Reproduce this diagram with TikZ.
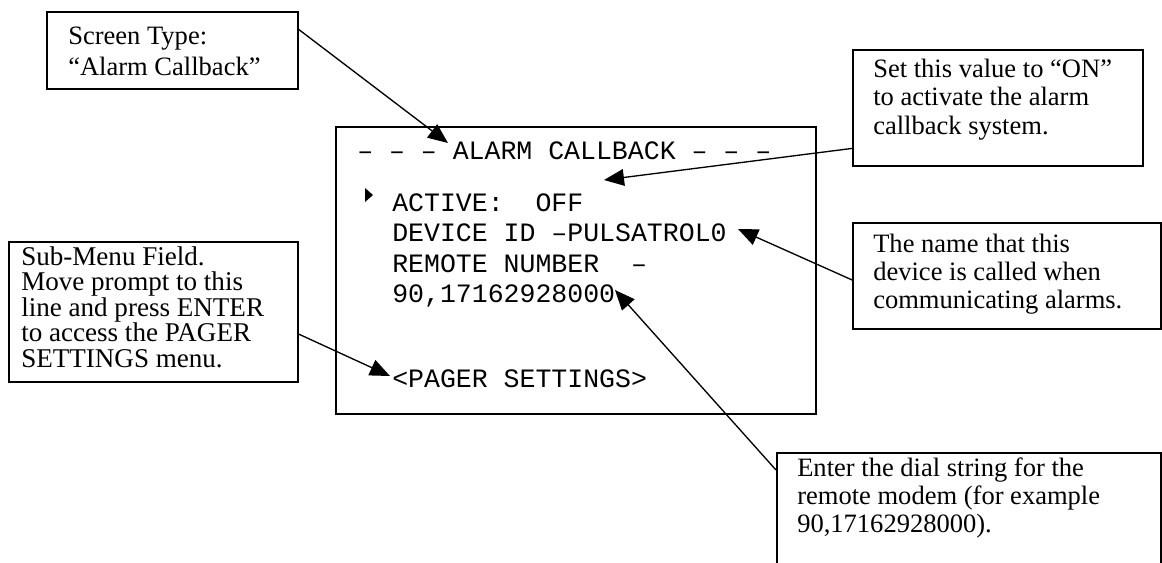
\documentclass[tikz,border=0pt]{standalone}
\usepackage{fontspec}
\setmainfont{Liberation Serif}
\newfontfamily\lcdfont{Liberation Mono}
\usetikzlibrary{arrows.meta,calc}
\begin{document}
\begin{tikzpicture}[x=0.75pt,y=-0.75pt,
  callout/.style={draw,line width=1.25pt,inner sep=0pt,anchor=north west},
  note/.style={anchor=base west,align=left,inner sep=0pt},
  screentext/.style={anchor=base west,inner sep=0pt,font=\lcdfont\fontsize{19.9}{24}\selectfont},
  pointer/.style={line width=1pt,-{Triangle[length=15pt,width=12.5pt]}}]
\useasboundingbox (0,0) rectangle (1162,563);
\clip (0,0) rectangle (1162,563);

% boxes
\node[callout,minimum width=251*0.75pt,minimum height=77*0.75pt] (scrbox) at (46,11) {};
\node[callout,minimum width=480*0.75pt,minimum height=287*0.75pt] (lcd) at (335,126) {};
\node[callout,minimum width=290*0.75pt,minimum height=116*0.75pt] (setbox) at (852,49) {};
\node[callout,minimum width=308*0.75pt,minimum height=106*0.75pt] (namebox) at (852,222) {};
\node[callout,minimum width=289*0.75pt,minimum height=140*0.75pt] (subbox) at (8,241) {};
\node[callout,minimum width=384*0.75pt,minimum height=148*0.75pt] (dialbox) at (776,452) {};

% callout texts (anchored at the baseline of the last line)
\node[note,font=\fontsize{19.9}{23.25}\selectfont] (scrtext) at (68,76) {Screen Type:\\“Alarm Callback”};
\node[note,font=\fontsize{19.9}{21.75}\selectfont] (settext) at (873,135) {Set this value to “ON”\\to activate the alarm\\callback system.};
\node[note,font=\fontsize{19.9}{21}\selectfont] (nametext) at (873,308) {The name that this\\device is called when\\communicating alarms.};
\node[note,font=\fontsize{20.3}{19.1}\selectfont] (subtext) at (21,367) {Sub-Menu Field.\\Move prompt to this\\line and press ENTER\\to access the PAGER\\SETTINGS menu.};
\node[note,font=\fontsize{19.9}{21}\selectfont] (dialtext) at (797,532) {Enter the dial string for the\\remote modem (for example\\90,17162928000).};

% screen contents
\node[screentext] (title) at (357,160) {– – – ALARM CALLBACK – – –};
\node[screentext] (active) at (392,211) {ACTIVE:~~OFF};
\node[screentext] (device) at (392,241) {DEVICE ID –PULSATROL0};
\node[screentext] (remote) at (392,272) {REMOTE NUMBER~~–};
\node[screentext] (number) at (392,302) {90,17162928000};
\node[screentext] (pager) at (392,387) {<PAGER SETTINGS>};
\fill (365,188) -- (373,195) -- (365,202) -- cycle;

% arrow targets
\coordinate (tipA) at (448,143);
\coordinate (tipB) at (604,180);
\coordinate (tipC) at (738,229);
\coordinate (tipD) at (390,376);
\coordinate (tipE) at (615,290);

\draw[pointer] ($(scrbox.north east)!0.234!(scrbox.south east)$) -- (tipA);
\draw[pointer] ($(setbox.north west)!0.845!(setbox.south west)$) -- (tipB);
\draw[pointer] ($(namebox.north west)!0.538!(namebox.south west)$) -- (tipC);
\draw[pointer] ($(subbox.north east)!0.657!(subbox.south east)$) -- (tipD);
\draw[pointer] ($(dialbox.north west)+(0,18)$) -- (tipE);
\end{tikzpicture}
\end{document}
